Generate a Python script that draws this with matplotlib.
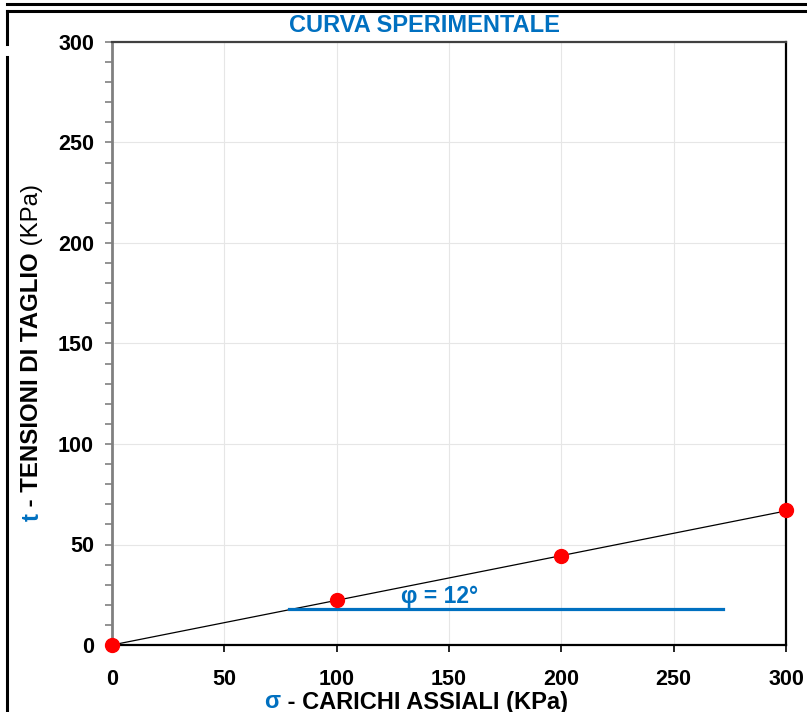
import matplotlib.pyplot as plt
from matplotlib.lines import Line2D
from matplotlib.ticker import MultipleLocator

plt.rcParams['font.family'] = ['Liberation Sans', 'DejaVu Sans']

# data
sigma = [0, 100, 200, 300]
tau = [0, 22.5, 44.5, 67]
fit_x = [0, 300]
fit_y = [0, 66.7]
phi_x = [79, 272]
phi_y = [18, 18]
phi_text = 'φ = 12°'
blue = '#0070C0'

fig = plt.figure(figsize=(8.07, 7.12), dpi=100)
ax = fig.add_axes([112 / 807, 1 - 645 / 712, 674 / 807, 603 / 712])

ax.plot(fit_x, fit_y, color='black', lw=0.9, zorder=3)
ax.plot(phi_x, phi_y, color=blue, lw=2.3, zorder=3)
ax.plot(sigma, tau, 'o', color='#FF0000', ms=10, zorder=4, clip_on=False)
ax.text(146, 18.6, phi_text, color=blue, fontsize=16.5, fontweight='bold', ha='center', va='bottom')

ax.set_xlim(0, 300)
ax.set_ylim(0, 300)
ax.xaxis.set_major_locator(MultipleLocator(50))
ax.yaxis.set_major_locator(MultipleLocator(50))
ax.yaxis.set_minor_locator(MultipleLocator(10))
ax.grid(True, which='major', color='#e6e6e6', lw=0.8)
ax.set_axisbelow(True)

ax.spines['left'].set_color('#808080')
ax.spines['left'].set_linewidth(2)
ax.spines['top'].set_color('#404040')
ax.spines['top'].set_linewidth(1.6)
ax.spines['right'].set_color('black')
ax.spines['right'].set_linewidth(1.6)
ax.spines['bottom'].set_color('black')
ax.spines['bottom'].set_linewidth(1.6)

ax.tick_params(axis='y', which='both', direction='out', color='#808080', length=5, width=1.2)
ax.tick_params(axis='x', direction='out', color='black', length=5, width=1.2)
ax.tick_params(axis='y', labelsize=15.5, pad=8)
ax.tick_params(axis='x', labelsize=15.5, pad=12)
for lab in ax.get_xticklabels() + ax.get_yticklabels():
    lab.set_fontweight('bold')

fig.text(424 / 807, 1 - 25 / 712, 'CURVA SPERIMENTALE', color=blue, fontsize=17,
         fontweight='bold', ha='center', va='center')

# frame lines
fig.add_artist(Line2D([7 / 807, 1], [1 - 3.5 / 712] * 2, color='black', lw=2.2, transform=fig.transFigure))
fig.add_artist(Line2D([7 / 807, 1], [1 - 11 / 712] * 2, color='black', lw=2.2, transform=fig.transFigure))
fig.add_artist(Line2D([7 / 807] * 2, [1 - 11 / 712, 1 - 44 / 712], color='black', lw=2.2, transform=fig.transFigure))
fig.add_artist(Line2D([7 / 807] * 2, [1 - 57 / 712, 0], color='black', lw=2.2, transform=fig.transFigure))

fig.canvas.draw()
r = fig.canvas.get_renderer()
W, H = fig.bbox.width, fig.bbox.height

# y label in pieces
yl = [('t', blue, 'bold'), (' - TENSIONI DI TAGLIO', 'black', 'bold'), (' (KPa)', 'black', 'normal')]
ypos = 1 - 521 / 712
for s, c, w in yl:
    t = fig.text(32 / 807, ypos, s, color=c, fontweight=w, fontsize=17.3, rotation=90,
                 ha='center', va='bottom')
    ypos = t.get_window_extent(r).y1 / H

# x label in pieces
xl = [('σ', blue, 'bold'), (' - CARICHI ASSIALI (KPa)', 'black', 'bold')]
parts = []
for s, c, w in xl:
    parts.append(fig.text(0, 1 - 702 / 712, s, color=c, fontweight=w, fontsize=17, ha='left', va='center'))
total = sum(p.get_window_extent(r).width for p in parts)
xpos = 416 - total / 2
for p in parts:
    p.set_x(xpos / W)
    xpos += p.get_window_extent(r).width

fig.savefig('out.png', dpi=100)
